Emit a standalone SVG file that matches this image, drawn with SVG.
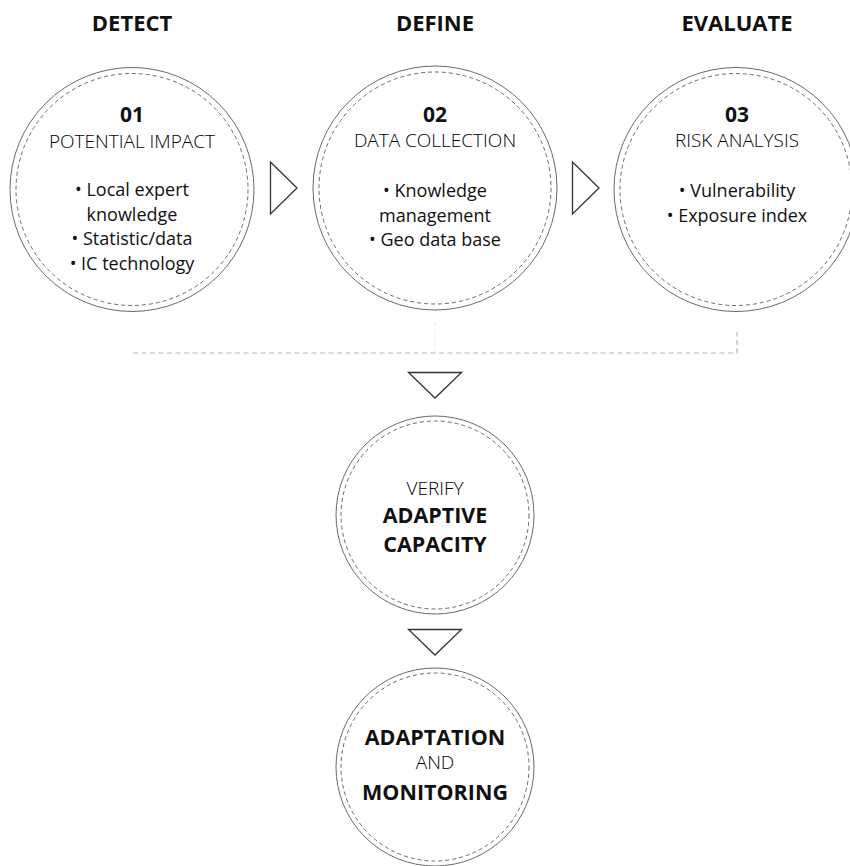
<svg xmlns="http://www.w3.org/2000/svg" width="850" height="866" viewBox="0 0 850 866">
<style>
  .outer { fill: #ffffff; stroke: #6a6a6a; stroke-width: 1; }
  .inner { fill: none; stroke: #6a6a6a; stroke-width: 1; stroke-dasharray: 4 3; }
  .tri { fill: #ffffff; stroke: #333333; stroke-width: 1.3; stroke-linejoin: miter; }
  .title { font-family: "Open Sans", "Noto Sans", sans-serif; font-weight: 700; font-size: 22px; fill: #111111; text-anchor: middle; }
  .num { font-family: "Open Sans", "Noto Sans", sans-serif; font-weight: 700; font-size: 21px; fill: #111111; text-anchor: middle; }
  .sub { font-family: "Open Sans", "Noto Sans", sans-serif; font-weight: 300; font-size: 19px; fill: #000000; text-anchor: middle; }
  .item { font-family: "Open Sans", "Noto Sans", sans-serif; font-weight: 400; font-size: 18px; fill: #111111; text-anchor: middle; }
  .bold { font-family: "Open Sans", "Noto Sans", sans-serif; font-weight: 700; font-size: 21.5px; fill: #111111; text-anchor: middle; }
  .dash { fill: none; stroke: #b5b5b5; stroke-width: 1.2; stroke-dasharray: 5 3.5; }
  .faint { fill: none; stroke: #ececec; stroke-width: 1; stroke-dasharray: 4 3; }
</style>
<rect width="850" height="866" fill="#ffffff"/>

<g id="headers">
  <text class="title" x="132" y="31">DETECT</text>
  <text class="title" x="435" y="31">DEFINE</text>
  <text class="title" x="737" y="31">EVALUATE</text>
</g>

<g id="connectors">
  <polygon class="tri" points="270.5,162 297,188 270.5,214"/>
  <polygon class="tri" points="572.5,162 599,188 572.5,214"/>
  <line class="faint" x1="435" y1="322" x2="435" y2="353"/>
  <polyline class="dash" points="133,353 737,353 737,332"/>
  <polygon class="tri" points="408.5,372.5 461.5,372.5 435,398"/>
  <polygon class="tri" points="408.5,629.5 461.5,629.5 435,655"/>
</g>

<g id="node-01">
  <circle class="outer" cx="132" cy="189.5" r="122"/>
  <circle class="inner" cx="132" cy="189.5" r="116"/>
  <text class="num" x="132" y="122">01</text>
  <text class="sub" x="132" y="148">POTENTIAL IMPACT</text>
  <text class="item" x="132" y="196">• Local expert</text>
  <text class="item" x="132" y="220.5">knowledge</text>
  <text class="item" x="132" y="245">• Statistic/data</text>
  <text class="item" x="132" y="269.5">• IC technology</text>
</g>

<g id="node-02">
  <circle class="outer" cx="435" cy="188" r="122"/>
  <circle class="inner" cx="435" cy="188" r="116"/>
  <text class="num" x="435" y="122">02</text>
  <text class="sub" x="435" y="147">DATA COLLECTION</text>
  <text class="item" x="435" y="197">• Knowledge</text>
  <text class="item" x="435" y="221.5">management</text>
  <text class="item" x="435" y="246">• Geo data base</text>
</g>

<g id="node-03">
  <circle class="outer" cx="736" cy="189.5" r="122"/>
  <circle class="inner" cx="736" cy="189.5" r="116"/>
  <text class="num" x="737" y="122">03</text>
  <text class="sub" x="737" y="147">RISK ANALYSIS</text>
  <text class="item" x="737" y="197">• Vulnerability</text>
  <text class="item" x="737" y="221.5">• Exposure index</text>
</g>

<g id="node-verify">
  <circle class="outer" cx="435" cy="515" r="99"/>
  <circle class="inner" cx="435" cy="515" r="94"/>
  <text class="sub" x="435" y="495">VERIFY</text>
  <text class="bold" x="435" y="523">ADAPTIVE</text>
  <text class="bold" x="435" y="552">CAPACITY</text>
</g>

<g id="node-adaptation">
  <circle class="outer" cx="435" cy="767" r="99"/>
  <circle class="inner" cx="435" cy="767" r="94"/>
  <text class="bold" x="435" y="745">ADAPTATION</text>
  <text class="sub" x="435" y="769">AND</text>
  <text class="bold" x="435" y="800">MONITORING</text>
</g>
</svg>
